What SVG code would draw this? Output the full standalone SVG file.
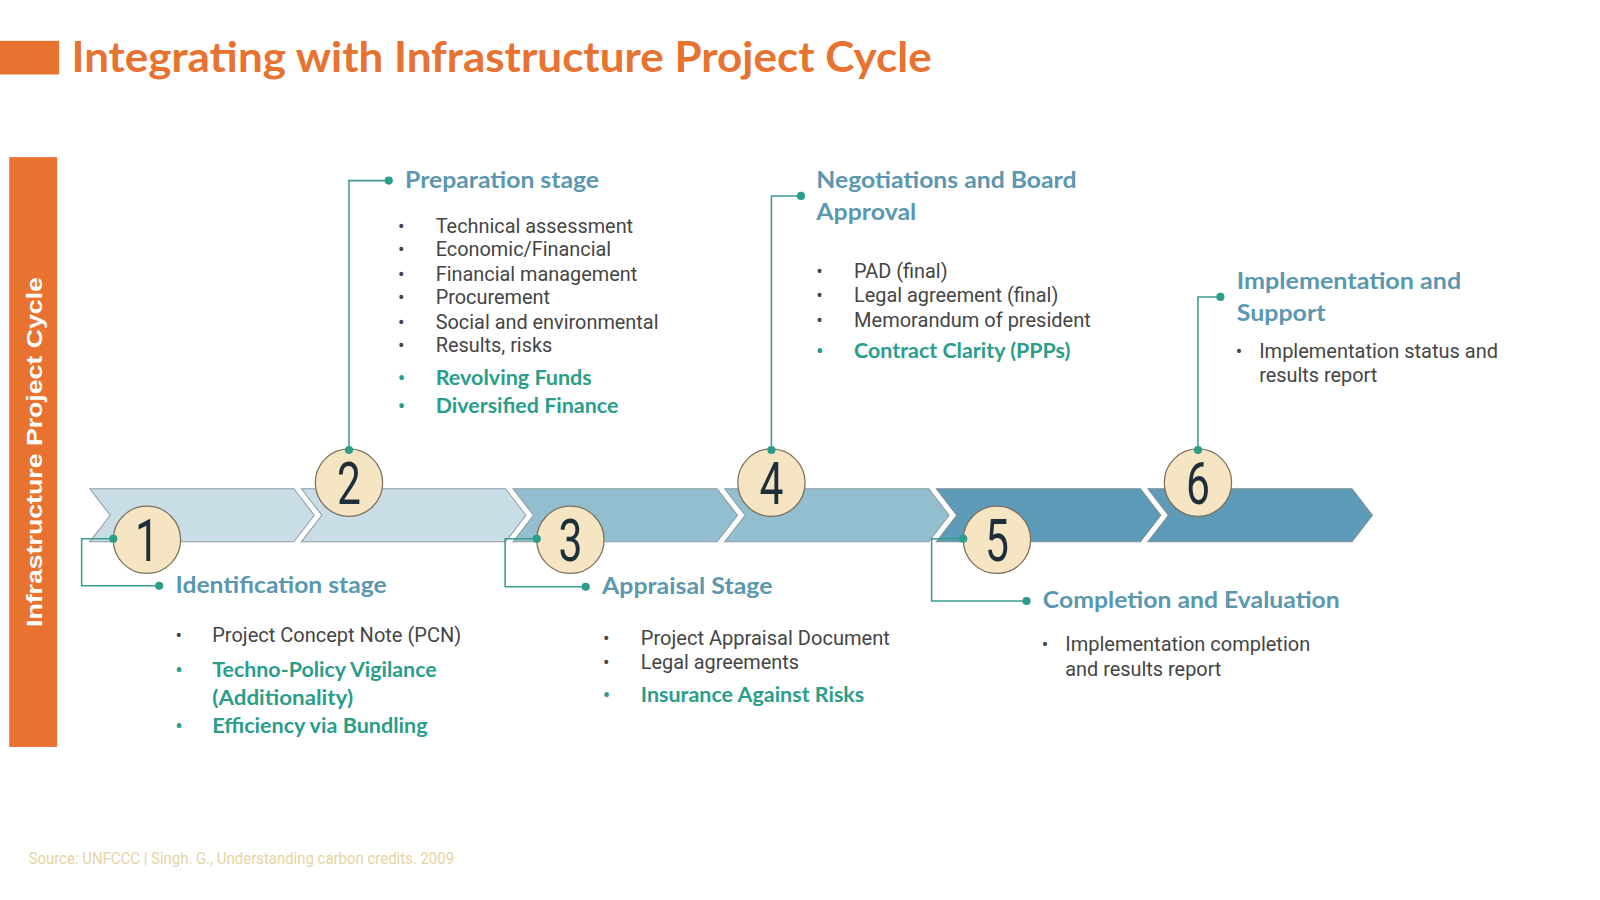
<svg xmlns="http://www.w3.org/2000/svg" width="1600" height="900" viewBox="0 0 1600 900">
<defs>
<style>
.title{font-family:Lato,"Open Sans",sans-serif;font-weight:700;fill:#E8722F;}
.side{font-family:"Liberation Sans",Arial,sans-serif;font-weight:700;fill:#FFFFFF;}
.head{font-family:Lato,"Open Sans",sans-serif;font-weight:700;fill:#5B97B0;font-size:22px;}
.body{font-family:Roboto,"Liberation Sans",sans-serif;font-weight:400;fill:#454545;font-size:19.5px;}
.bul{font-family:Roboto,"Liberation Sans",sans-serif;font-weight:400;fill:#454545;font-size:19px;}
.tbul{font-family:Roboto,"Liberation Sans",sans-serif;font-weight:700;fill:#2A9D8B;font-size:19px;}
.teal{font-family:Lato,"Open Sans",sans-serif;font-weight:700;fill:#2A9D8B;font-size:20px;}
.num{font-family:Roboto,"Liberation Sans",sans-serif;font-weight:400;fill:#1E2F3B;font-size:58px;text-anchor:middle;}
.src{font-family:"Liberation Sans Narrow",Roboto,sans-serif;fill:#E6D3A3;font-size:17px;}
.c1{fill:#C9DDE7;stroke:#8D9CA3;stroke-width:1;}
.c2{fill:#93BED0;stroke:#8D9CA3;stroke-width:1;}
.c3{fill:#5D9BB8;stroke:#7F8E95;stroke-width:1;}
.circ{fill:#F5E5C3;stroke:#7C6F5A;stroke-width:1.2;}
.conn{fill:none;stroke:#3A9C8E;stroke-width:1.5;}
.dot{fill:#2A9D8B;}
</style>
</defs>
<rect width="1600" height="900" fill="#FFFFFF"/>
<g transform="scale(1.0204)">
<g id="title">
<rect x="0" y="40" width="58" height="33" fill="#E8722F"/>
<text class="title" x="70" y="71" font-size="42" textLength="843" lengthAdjust="spacingAndGlyphs">Integrating with Infrastructure Project Cycle</text>
</g>
<g id="sidebar">
<rect x="9" y="154" width="47" height="578" fill="#E8722F"/>
<text class="side" transform="translate(41,443) rotate(-90)" x="0" y="0" font-size="22" text-anchor="middle" textLength="343" lengthAdjust="spacingAndGlyphs">Infrastructure Project Cycle</text>
</g>
<g id="chevrons">
<polygon class="c1" points="88,479 288,479 308,505 288,531 88,531 108,505"/>
<polygon class="c1" points="295.4,479 495.4,479 515.4,505 495.4,531 295.4,531 315.4,505"/>
<polygon class="c2" points="502.8,479 702.8,479 722.8,505 702.8,531 502.8,531 522.8,505"/>
<polygon class="c2" points="710.2,479 910.2,479 930.2,505 910.2,531 710.2,531 730.2,505"/>
<polygon class="c3" points="917.6,479 1117.6,479 1137.6,505 1117.6,531 917.6,531 937.6,505"/>
<polygon class="c3" points="1125,479 1325,479 1345,505 1325,531 1125,531 1145,505"/>
</g>
<g id="connectors">
<polyline class="conn" points="111,528 80,528 80,574 156,574"/>
<polyline class="conn" points="342,440 342,177 381,177"/>
<polyline class="conn" points="526,528 495,528 495,575 574,575"/>
<polyline class="conn" points="756,440 756,192 785,192"/>
<polyline class="conn" points="944,528 913,528 913,589 1006,589"/>
<polyline class="conn" points="1174,440 1174,291 1196,291"/>
</g>
<g id="step1">
<circle class="circ" cx="144" cy="529" r="33"/>
<text class="num" transform="translate(144,550) scale(0.72,1)">1</text>
<circle class="dot" cx="111" cy="528" r="4"/>
<circle class="dot" cx="156" cy="574" r="4"/>
<text class="head" x="172" y="581" textLength="207" lengthAdjust="spacingAndGlyphs">Identification stage</text>
<text class="bul" x="172" y="629">•</text>
<text class="body" x="208" y="629" textLength="244" lengthAdjust="spacingAndGlyphs">Project Concept Note (PCN)</text>
<text class="tbul" x="172" y="663">•</text>
<text class="teal" x="208" y="663" textLength="220" lengthAdjust="spacingAndGlyphs">Techno-Policy Vigilance</text>
<text class="teal" x="208" y="691" textLength="138" lengthAdjust="spacingAndGlyphs">(Additionality)</text>
<text class="tbul" x="172" y="718">•</text>
<text class="teal" x="208" y="718" textLength="211" lengthAdjust="spacingAndGlyphs">Efficiency via Bundling</text>
</g>
<g id="step2">
<circle class="circ" cx="342" cy="473" r="33"/>
<text class="num" transform="translate(342,494) scale(0.72,1)">2</text>
<circle class="dot" cx="342" cy="441" r="4"/>
<circle class="dot" cx="381" cy="177" r="4"/>
<text class="head" x="397" y="184" textLength="190" lengthAdjust="spacingAndGlyphs">Preparation stage</text>
<text class="bul" x="390" y="228">•</text>
<text class="body" x="427" y="228">Technical assessment</text>
<text class="bul" x="390" y="251">•</text>
<text class="body" x="427" y="251">Economic/Financial</text>
<text class="bul" x="390" y="275">•</text>
<text class="body" x="427" y="275">Financial management</text>
<text class="bul" x="390" y="298">•</text>
<text class="body" x="427" y="298">Procurement</text>
<text class="bul" x="390" y="322">•</text>
<text class="body" x="427" y="322">Social and environmental</text>
<text class="bul" x="390" y="345">•</text>
<text class="body" x="427" y="345">Results, risks</text>
<text class="tbul" x="390" y="377">•</text>
<text class="teal" x="427" y="377" textLength="153" lengthAdjust="spacingAndGlyphs">Revolving Funds</text>
<text class="tbul" x="390" y="405">•</text>
<text class="teal" x="427" y="405" textLength="179" lengthAdjust="spacingAndGlyphs">Diversified Finance</text>
</g>
<g id="step3">
<circle class="circ" cx="559" cy="529" r="33"/>
<text class="num" transform="translate(559,550) scale(0.72,1)">3</text>
<circle class="dot" cx="526" cy="528" r="4"/>
<circle class="dot" cx="574" cy="575" r="4"/>
<text class="head" x="590" y="582" textLength="167" lengthAdjust="spacingAndGlyphs">Appraisal Stage</text>
<text class="bul" x="591" y="632">•</text>
<text class="body" x="628" y="632" textLength="244" lengthAdjust="spacingAndGlyphs">Project Appraisal Document</text>
<text class="bul" x="591" y="656">•</text>
<text class="body" x="628" y="656">Legal agreements</text>
<text class="tbul" x="591" y="688">•</text>
<text class="teal" x="628" y="688" textLength="219" lengthAdjust="spacingAndGlyphs">Insurance Against Risks</text>
</g>
<g id="step4">
<circle class="circ" cx="756" cy="473" r="33"/>
<text class="num" transform="translate(756,494) scale(0.72,1)">4</text>
<circle class="dot" cx="756" cy="441" r="4"/>
<circle class="dot" cx="785" cy="192" r="4"/>
<text class="head" x="800" y="184" textLength="255" lengthAdjust="spacingAndGlyphs">Negotiations and Board</text>
<text class="head" x="800" y="216" textLength="98" lengthAdjust="spacingAndGlyphs">Approval</text>
<text class="bul" x="800" y="272">•</text>
<text class="body" x="837" y="272">PAD (final)</text>
<text class="bul" x="800" y="296">•</text>
<text class="body" x="837" y="296">Legal agreement (final)</text>
<text class="bul" x="800" y="320">•</text>
<text class="body" x="837" y="320" textLength="232" lengthAdjust="spacingAndGlyphs">Memorandum of president</text>
<text class="tbul" x="800" y="351">•</text>
<text class="teal" x="837" y="351" textLength="212" lengthAdjust="spacingAndGlyphs">Contract Clarity (PPPs)</text>
</g>
<g id="step5">
<circle class="circ" cx="977" cy="529" r="33"/>
<text class="num" transform="translate(977,550) scale(0.72,1)">5</text>
<circle class="dot" cx="944" cy="528" r="4"/>
<circle class="dot" cx="1006" cy="589" r="4"/>
<text class="head" x="1022" y="596" textLength="291" lengthAdjust="spacingAndGlyphs">Completion and Evaluation</text>
<text class="bul" x="1021" y="638">•</text>
<text class="body" x="1044" y="638" textLength="240" lengthAdjust="spacingAndGlyphs">Implementation completion</text>
<text class="body" x="1044" y="662">and results report</text>
</g>
<g id="step6">
<circle class="circ" cx="1174" cy="473" r="33"/>
<text class="num" transform="translate(1174,494) scale(0.72,1)">6</text>
<circle class="dot" cx="1174" cy="441" r="4"/>
<circle class="dot" cx="1196" cy="291" r="4"/>
<text class="head" x="1212" y="283" textLength="220" lengthAdjust="spacingAndGlyphs">Implementation and</text>
<text class="head" x="1212" y="315" textLength="87" lengthAdjust="spacingAndGlyphs">Support</text>
<text class="bul" x="1211" y="351">•</text>
<text class="body" x="1234" y="351" textLength="234" lengthAdjust="spacingAndGlyphs">Implementation status and</text>
<text class="body" x="1234" y="374">results report</text>
</g>
<g id="source">
<text class="src" x="28" y="847" textLength="417" lengthAdjust="spacingAndGlyphs">Source: UNFCCC | Singh. G., Understanding carbon credits. 2009</text>
</g>
</g>
</svg>
